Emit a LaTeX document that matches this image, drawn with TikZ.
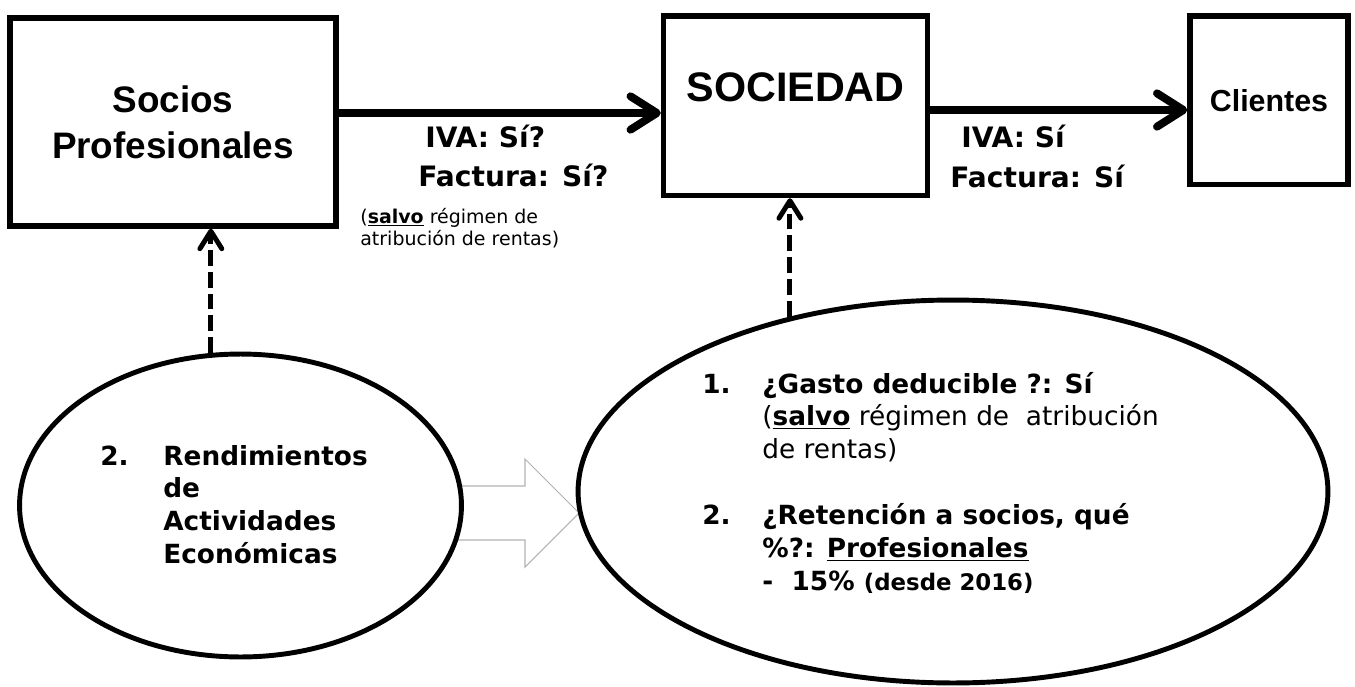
\documentclass[tikz,border=0pt]{standalone}
\usepackage{fontspec}
\setmainfont{Liberation Sans}
\newfontfamily\verd{DejaVu Sans}
\usepackage{tikz}
\usetikzlibrary{shapes.geometric}
\usetikzlibrary{arrows.meta}

\tikzset{
  kasten/.style={draw, line width=3.1pt, inner sep=0pt},
  blase/.style={ellipse, draw, line width=2.8pt, fill=white, inner sep=0pt},
  pfeil/.style={line width=4.5pt, -{Straight Barb[length=15pt, width=19pt, round]}},
  strich/.style={line width=2.8pt, dash pattern=on 9pt off 3.4pt, -{Straight Barb[length=10pt, width=12.5pt, round]}},
  etikett/.style={inner sep=0pt, anchor=base west},
  hohl/.style={draw=black!30, line width=0.6pt},
}

\begin{document}
\begin{tikzpicture}[x=0.02cm, y=-0.02cm]
        \useasboundingbox (0,0) rectangle (1355,686);
        % boxes on top
        \node [kasten, align=center, minimum width=6.52cm, minimum height=4.16cm, font=\bfseries\fontsize{21}{26}\selectfont] (socios) at (173,122) {Socios\\Profesionales};
        \node [kasten, minimum width=5.28cm, minimum height=3.59cm, text depth=0.74cm, font=\bfseries\fontsize{23.5}{28}\selectfont] (sociedad) at (795.5,105.75) {SOCIEDAD};
        \node [kasten, minimum width=3.16cm, minimum height=3.37cm, font=\bfseries\fontsize{17.3}{20}\selectfont] (clientes) at (1269,100.25) {Clientes};
        \coordinate (a1) at ([yshift=0.18cm]socios.east);
        \coordinate (a2) at ([yshift=-0.085cm]sociedad.east);
        \draw [pfeil] (a1) -- (a1 -| sociedad.west);   % RIGHT
        \draw [pfeil] (a2) -- (a2 -| clientes.west);   % RIGHT
        \node [etikett, font=\verd\bfseries\fontsize{16}{22.7}\selectfont] (iva1) at (418,147) {\begin{tabular}[t]{@{}l@{}}\hspace{0.14cm}IVA: Sí?\\Factura: Sí?\end{tabular}};
        \node [etikett, font=\verd\bfseries\fontsize{16}{22.7}\selectfont] (iva2) at (950,148) {\begin{tabular}[t]{@{}l@{}}\hspace{0.22cm}IVA: Sí\\Factura: Sí\end{tabular}};
        \node [etikett, font=\verd\fontsize{10.8}{13}\selectfont] (salvo) at (360,223) {\begin{tabular}[t]{@{}l@{}}(\underline{\textbf{salvo}} régimen de\\atribución de rentas)\end{tabular}};
        % hollow arrow behind the ellipses
        \draw [hohl] (440,486) -- (525,486) -- (525,459) -- (579,513) -- (525,567) -- (525,540) -- (440,540);
        \node [blase, minimum width=8.84cm, minimum height=6.06cm] (links) at (240.5,505.5) {};
        \node [blase, minimum width=15cm, minimum height=7.66cm] (rechts) at (953,491.5) {};
        \draw [strich] (links.101.4) -- (links.101.4 |- socios.south);     % UP
        \draw [strich] (rechts.133.6) -- (rechts.133.6 |- sociedad.south); % UP
        \node [etikett, font=\verd\bfseries\fontsize{15}{18.7}\selectfont] (rend) at (100,465) {\begin{tabular}[t]{@{}p{1.26cm}@{}l@{}}
          2. & Rendimientos\\
             & de\\
             & Actividades\\
             & Económicas
        \end{tabular}};
        \node [etikett, font=\verd\bfseries\fontsize{15}{18.7}\selectfont] (fragen) at (702,393) {\begin{tabular}[t]{@{}p{1.2cm}@{}l@{}}
          1. & ¿Gasto deducible ?: Sí\\
             & \mdseries(\underline{\textbf{salvo}} régimen de\ \ atribución\\
             & \mdseries de rentas)\\
             & \\
          2. & ¿Retención a socios, qué\\
             & \%?: \underline{Profesionales}\\
             & -\ \ 15\% {\fontsize{13}{15}\selectfont(desde 2016)}
        \end{tabular}};
\end{tikzpicture}
\end{document}
